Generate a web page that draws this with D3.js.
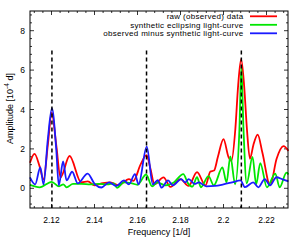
<!DOCTYPE html>
<html>
<head>
<meta charset="utf-8">
<script src="https://cdn.jsdelivr.net/npm/d3@7"></script>
<style>
  body { margin: 0; background: #fff; }
  text { font-family: "Liberation Sans", Arial, sans-serif; font-size: 9px; fill: #000; }
  .tick-label { font-size: 8.5px; }
  .legend text { font-size: 8px; letter-spacing: 0.3px; }
</style>
</head>
<body>
<div id="chart"></div>
<script>
// raw (observed) data
var redF = [2.1100, 2.1121, 2.1144, 2.1163, 2.1183, 2.1201, 2.1222, 2.1242, 2.1284, 2.1338,
    2.1369, 2.1400, 2.1439, 2.1474, 2.1512, 2.1560, 2.1581, 2.1614, 2.1642, 2.1660, 2.1679,
    2.1721, 2.1753, 2.1800, 2.1837, 2.1877, 2.1916, 2.1939, 2.1956, 2.1974, 2.2000, 2.2023,
    2.2037, 2.2055, 2.2068, 2.2082, 2.2096, 2.2109, 2.2123, 2.2139, 2.2159, 2.2181, 2.2217,
    2.2247, 2.2279, 2.2302];
var redA = [1.30, 1.75, 1.14, 0.45, 2.20, 3.85, 2.20, 0.56, 1.64, 0.30,
    0.35, 0.15, 0.26, 0.30, 0.15, 0.47, 0.38, 1.20, 1.68, 1.00, 0.20,
    0.55, 0.07, 0.47, 0.12, 0.82, 0.15, 0.85, 0.90, 1.60, 2.50, 1.60,
    1.40, 3.00, 5.20, 6.55, 5.20, 3.00, 1.50, 2.20, 2.72, 1.80, 0.15,
    1.50, 2.14, 1.90];

// synthetic eclipsing light-curve
var greenF = [2.1100, 2.1145, 2.1201, 2.1235, 2.1255, 2.1270, 2.1300, 2.1340, 2.1380, 2.1420,
    2.1460, 2.1490, 2.1505, 2.1536, 2.1575, 2.1600, 2.1640, 2.1668, 2.1692, 2.1730, 2.1767,
    2.1813, 2.1835, 2.1855, 2.1877, 2.1895, 2.1930, 2.1955, 2.1995, 2.2014, 2.2032, 2.2054,
    2.2074, 2.2083, 2.2093, 2.2108, 2.2135, 2.2152, 2.2171, 2.2202, 2.2241, 2.2261, 2.2293,
    2.2302];
var greenA = [0.17, 0.05, 0.33, 0.10, 0.20, 0.05, 0.22, 0.22, 0.20, 0.22,
    0.20, 0.25, 0.02, 0.30, 0.25, 0.18, 0.70, 0.10, 0.30, 0.15, 0.28,
    0.72, 0.25, 0.08, 0.56, 0.05, 0.62, 0.15, 1.06, 0.30, 1.62, 0.20,
    3.00, 6.15, 3.00, 0.25, 1.60, 0.20, 1.28, 0.05, 0.75, 0.05, 0.80,
    0.70];

// observed minus synthetic light-curve
var blueF = [2.1100, 2.1124, 2.1148, 2.1163, 2.1183, 2.1202, 2.1222, 2.1234, 2.1254, 2.1270,
    2.1296, 2.1322, 2.1368, 2.1402, 2.1432, 2.1468, 2.1502, 2.1537, 2.1560, 2.1588, 2.1605,
    2.1643, 2.1671, 2.1694, 2.1712, 2.1742, 2.1765, 2.1803, 2.1822, 2.1838, 2.1866, 2.1885,
    2.1920, 2.1960, 2.2000, 2.2040, 2.2079, 2.2100, 2.2138, 2.2162, 2.2192, 2.2216, 2.2246,
    2.2275, 2.2302];
var blueA = [0.56, 0.20, 1.06, 0.20, 2.50, 4.06, 2.00, 0.15, 1.36, 0.40,
    0.84, 0.25, 0.75, 0.20, 0.04, 0.30, 0.12, 0.40, 0.20, 0.72, 0.20,
    2.12, 0.20, 0.42, 0.03, 0.40, 0.15, 0.47, 0.30, 0.47, 0.22, 0.30,
    0.10, 0.12, 0.20, 0.30, 0.40, 0.06, 0.30, 0.05, 0.47, 0.15, 0.56,
    0.45, 0.35];

var markerF = [2.1202, 2.1642, 2.2083];
var xTicks = [2.12, 2.14, 2.16, 2.18, 2.2, 2.22];
var yTicks = [0, 2, 4, 6, 8];
var seriesNames = ["raw (observed) data", "synthetic eclipsing light-curve", "observed minus synthetic light-curve"];
var seriesColors = ["#ff0000", "#00e600", "#1a1aff"];

var width = 305, height = 240;
var margin = { top: 11, right: 17, bottom: 32, left: 30 };

var x = d3.scaleLinear().domain([2.11, 2.23]).range([margin.left, width - margin.right]);
var y = d3.scaleLinear().domain([-1, 9]).range([height - margin.bottom, margin.top]);

var svg = d3.select("#chart").append("svg")
    .attr("width", width)
    .attr("height", height);

var x0 = x.range()[0], x1 = x.range()[1], y0 = y.range()[0], y1 = y.range()[1];

// minor / major ticks on all four sides, pointing inward
var xMinor = d3.range(2.112, 2.2301, 0.004);
var yMinor = d3.range(-0.8, 9.0, 0.4);
var tk = svg.append("g").attr("stroke", "#000").attr("stroke-width", 0.8);
xMinor.forEach(function(v) {
    var major = xTicks.some(function(t) { return Math.abs(t - v) < 1e-6; });
    var len = major ? 4 : 2;
    tk.append("line").attr("x1", x(v)).attr("x2", x(v)).attr("y1", y0).attr("y2", y0 - len);
    tk.append("line").attr("x1", x(v)).attr("x2", x(v)).attr("y1", y1).attr("y2", y1 + len);
});
yMinor.forEach(function(v) {
    var major = yTicks.some(function(t) { return Math.abs(t - v) < 1e-6; });
    var len = major ? 4 : 2;
    tk.append("line").attr("x1", x0).attr("x2", x0 + len).attr("y1", y(v)).attr("y2", y(v));
    tk.append("line").attr("x1", x1).attr("x2", x1 - len).attr("y1", y(v)).attr("y2", y(v));
});

// tick labels
svg.append("g").selectAll("text")
    .data(xTicks).enter()
    .append("text")
    .attr("class", "tick-label")
    .attr("x", function(d) { return x(d); })
    .attr("y", y0 + 15)
    .attr("text-anchor", "middle")
    .text(function(d) { return d3.format("")(d); });

svg.append("g").selectAll("text")
    .data(yTicks).enter()
    .append("text")
    .attr("class", "tick-label")
    .attr("x", x0 - 5)
    .attr("y", function(d) { return y(d) + 3.1; })
    .attr("text-anchor", "end")
    .text(function(d) { return d; });

// axis titles
svg.append("text")
    .attr("x", (x0 + x1) / 2)
    .attr("y", 235)
    .attr("text-anchor", "middle")
    .text("Frequency [1/d]");

var yl = svg.append("text")
    .attr("transform", "translate(12.5," + ((y0 + y1) / 2 - 1) + ") rotate(-90)")
    .attr("text-anchor", "middle");
yl.append("tspan").text("Amplitude [10");
yl.append("tspan").attr("dy", -3.5).style("font-size", "6.5px").text("-4");
yl.append("tspan").attr("dy", 3.5).text(" d]");

// curves
var line = d3.line()
    .x(function(d) { return x(d[0]); })
    .y(function(d) { return y(d[1]); })
    .curve(d3.curveMonotoneX);

var series = [d3.zip(redF, redA), d3.zip(greenF, greenA), d3.zip(blueF, blueA)];

var plot = svg.append("g");
series.forEach(function(s, i) {
    plot.append("path")
        .datum(s)
        .attr("fill", "none")
        .attr("stroke", seriesColors[i])
        .attr("stroke-width", 1.8)
        .attr("stroke-linejoin", "round")
        .attr("d", line);
});

// dashed markers
svg.append("g").selectAll("line")
    .data(markerF).enter()
    .append("line")
    .attr("x1", function(d) { return x(d); })
    .attr("x2", function(d) { return x(d); })
    .attr("y1", y(7))
    .attr("y2", y(-1))
    .attr("stroke", "#000")
    .attr("stroke-width", 1.5)
    .attr("stroke-dasharray", "4,3");

// legend
var lg = svg.append("g").attr("class", "legend");
seriesNames.forEach(function(n, i) {
    var ly = 16.3 + i * 8.5;
    lg.append("text")
        .attr("x", 243.5)
        .attr("y", ly + 2.9)
        .attr("text-anchor", "end")
        .text(n);
    lg.append("line")
        .attr("x1", 250).attr("x2", 277)
        .attr("y1", ly).attr("y2", ly)
        .attr("stroke", seriesColors[i])
        .attr("stroke-width", 1.8);
});

// frame
svg.append("rect")
    .attr("x", x0).attr("y", y1)
    .attr("width", x1 - x0).attr("height", y0 - y1)
    .attr("fill", "none")
    .attr("stroke", "#000")
    .attr("stroke-width", 1);
</script>
</body>
</html>
